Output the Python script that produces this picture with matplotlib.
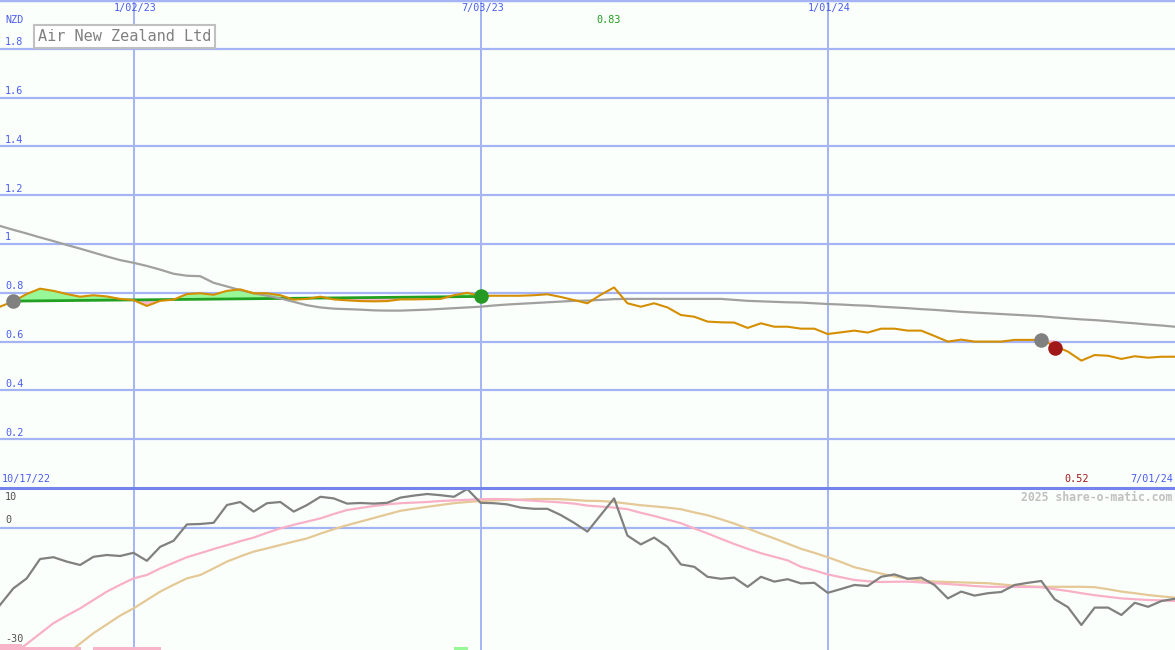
import matplotlib
matplotlib.use("Agg")
import matplotlib.pyplot as plt
import matplotlib.transforms as mtransforms
import numpy as np

# ---------------- data ----------------
weeks = list(range(89))
price = [0.743, 0.765, 0.795, 0.817, 0.808, 0.795, 0.784, 0.790, 0.785, 0.775,
         0.770, 0.746, 0.767, 0.772, 0.795, 0.798, 0.792, 0.808, 0.814, 0.798,
         0.798, 0.790, 0.772, 0.775, 0.784, 0.773, 0.769, 0.766, 0.765, 0.766,
         0.773, 0.773, 0.774, 0.775, 0.790, 0.800, 0.787, 0.788, 0.788, 0.788,
         0.790, 0.794, 0.783, 0.770, 0.757, 0.792, 0.822, 0.757, 0.743, 0.757,
         0.740, 0.709, 0.702, 0.682, 0.679, 0.678, 0.656, 0.675, 0.661, 0.661,
         0.653, 0.653, 0.631, 0.638, 0.645, 0.637, 0.653, 0.653, 0.645, 0.645,
         0.623, 0.600, 0.608, 0.600, 0.600, 0.600, 0.607, 0.607, 0.607, 0.582,
         0.559, 0.522, 0.545, 0.542, 0.529, 0.540, 0.534, 0.538, 0.538]
long_ma = [1.074, 1.058, 1.043, 1.027, 1.012, 0.996, 0.981, 0.965, 0.949, 0.934,
           0.923, 0.910, 0.895, 0.878, 0.870, 0.868, 0.841, 0.826, 0.811, 0.798,
           0.788, 0.777, 0.763, 0.749, 0.740, 0.735, 0.733, 0.731, 0.728, 0.727,
           0.727, 0.729, 0.731, 0.734, 0.737, 0.740, 0.743, 0.748, 0.752, 0.755,
           0.758, 0.761, 0.764, 0.767, 0.768, 0.771, 0.774, 0.775, 0.775, 0.775,
           0.775, 0.775, 0.775, 0.775, 0.775, 0.771, 0.767, 0.765, 0.763, 0.761,
           0.760, 0.757, 0.754, 0.752, 0.749, 0.747, 0.743, 0.740, 0.737, 0.733,
           0.730, 0.726, 0.722, 0.719, 0.716, 0.713, 0.710, 0.707, 0.704, 0.699,
           0.695, 0.691, 0.688, 0.684, 0.679, 0.675, 0.670, 0.666, 0.661]
momentum = [-19.25, -15.1, -12.6, -7.75, -7.3, -8.4, -9.25, -7.2, -6.75, -7.0,
            -6.2, -8.2, -4.7, -3.2, 0.9, 1.0, 1.3, 5.75, 6.5, 4.1,
            6.2, 6.5, 4.1, 5.75, 7.8, 7.4, 6.1, 6.25, 6.1, 6.3,
            7.6, 8.1, 8.5, 8.2, 7.8, 9.75, 6.3, 6.2, 5.9, 5.1,
            4.8, 4.8, 3.25, 1.3, -0.9, 3.25, 7.4, -1.9, -4.1, -2.4,
            -4.7, -9.1, -9.7, -12.2, -12.7, -12.4, -14.7, -12.2, -13.4, -12.8,
            -13.85, -13.7, -16.2, -15.25, -14.25, -14.5, -12.2, -11.6, -12.7, -12.4,
            -14.25, -17.6, -15.9, -16.9, -16.3, -16.0, -14.25, -13.7, -13.25, -17.8,
            -19.8, -24.25, -19.9, -19.9, -21.75, -18.7, -19.7, -18.25, -17.7]
mom_fast = [-34.3, -31.6, -29.0, -26.4, -23.8, -21.9, -20.1, -18.0, -15.9, -14.2,
            -12.6, -11.75, -10.1, -8.7, -7.3, -6.3, -5.25, -4.3, -3.3, -2.4,
            -1.2, -0.1, 0.8, 1.6, 2.4, 3.5, 4.5, 5.0, 5.5, 5.9,
            6.2, 6.35, 6.5, 6.75, 6.9, 7.05, 7.2, 7.25, 7.2, 7.0,
            6.8, 6.6, 6.4, 6.1, 5.6, 5.35, 5.1, 4.7, 3.8, 3.0,
            2.1, 1.2, -0.1, -1.35, -2.7, -4.0, -5.2, -6.3, -7.2, -8.1,
            -9.7, -10.6, -11.6, -12.3, -13.0, -13.3, -13.5, -13.45, -13.4, -13.6,
            -13.8, -14.0, -14.25, -14.5, -14.7, -14.7, -14.7, -14.75, -14.8, -15.3,
            -15.75, -16.3, -16.8, -17.2, -17.6, -17.8, -18.0, -18.1, -18.25]
mom_slow = [-44.5, -41.9, -39.3, -36.7, -34.1, -31.5, -28.9, -26.3, -24.1, -21.9,
            -20.1, -18.0, -15.9, -14.2, -12.6, -11.75, -10.1, -8.4, -7.1, -5.9,
            -5.1, -4.25, -3.4, -2.6, -1.4, -0.3, 0.7, 1.6, 2.5, 3.4,
            4.3, 4.8, 5.3, 5.75, 6.2, 6.5, 6.75, 6.9, 7.0, 7.1,
            7.25, 7.25, 7.2, 7.0, 6.8, 6.75, 6.5, 6.1, 5.7, 5.4,
            5.1, 4.7, 3.9, 3.2, 2.2, 1.1, -0.1, -1.4, -2.6, -3.9,
            -5.2, -6.2, -7.3, -8.5, -9.8, -10.6, -11.4, -12.1, -12.7, -13.1,
            -13.4, -13.5, -13.6, -13.7, -13.8, -14.1, -14.4, -14.6, -14.7, -14.7,
            -14.7, -14.7, -14.8, -15.3, -15.9, -16.3, -16.75, -17.1, -17.4]

# trades: (entry week, entry price, exit week, exit price)
trade1 = (1, 0.766, 36, 0.785)
trade2 = (78, 0.607, 79, 0.574)

# signal bars at the bottom: (start week, end week, height, colour)
signal_bars = [(0.0, 1.65, 1.5, "#f8b4c8"), (1.65, 6.05, 0.75, "#f8b4c8"),
               (6.95, 12.05, 0.75, "#f8b4c8"), (34.0, 35.05, 0.75, "#98f898")]

price_ticks = [0.2, 0.4, 0.6, 0.8, 1.0, 1.2, 1.4, 1.6, 1.8]
price_tick_labels = ["0.2", "0.4", "0.6", "0.8", "1", "1.2", "1.4", "1.6", "1.8"]
date_ticks = [10, 36, 62]
date_labels = ["1/02/23", "7/03/23", "1/01/24"]
start_label, end_label = "10/17/22", "7/01/24"
high_label, high_week = "0.83", 46
low_label, low_week = "0.52", 81
title = "Air New Zealand Ltd"

# ---------------- style ----------------
W, H = 1175, 650
BG = "#fbfffb"
GRID = "#a4b4f4"
SEP = "#7484ec"
BLUE = "#4a5cf0"
MONO = "DejaVu Sans Mono"
FS = 7.3

fig = plt.figure(figsize=(W / 100, H / 100), dpi=100, facecolor=BG)
ax = fig.add_axes([0, 162 / H, 1, 488 / H], facecolor=BG)
axb = fig.add_axes([0, 0, 1, 162 / H], facecolor=BG)

xmax = 1175 / 13.35
for a in (ax, axb):
    a.set_xlim(0, xmax)
    a.set_xticks([])
    a.set_yticks([])
    for s in a.spines.values():
        s.set_visible(False)
    for d in date_ticks:
        a.axvline(d, color=GRID, lw=1.4, zorder=1)

ax.set_ylim(0, 2.0)
axb.set_ylim(-30.5, 10)

for t in price_ticks:
    ax.axhline(t, color=GRID, lw=1.6, zorder=1)
ax.axhline(2.0, color=GRID, lw=2.5, zorder=1)
axb.axhline(10.0, color=SEP, lw=2.2, zorder=10, clip_on=False)
axb.axhline(0.0, color=GRID, lw=1.6, zorder=1)

wk = np.array(weeks, dtype=float)
pr = np.array(price)

# trade 1 fill and line
e_w, e_p, x_w, x_p = trade1
seg = (wk >= e_w) & (wk <= x_w)
line_vals = np.interp(wk, [e_w, x_w], [e_p, x_p])
ax.fill_between(wk[seg], pr[seg], line_vals[seg], where=pr[seg] >= line_vals[seg],
                interpolate=True, color="#98f898", lw=0, zorder=2)
ax.fill_between(wk[seg], pr[seg], line_vals[seg], where=pr[seg] < line_vals[seg],
                interpolate=True, color="#f8b4c8", lw=0, zorder=2)
ax.plot([e_w, x_w], [e_p, x_p], color="#22a022", lw=2.0, zorder=3)

# trade 2 fill (price below entry level)
e2_w, e2_p, x2_w, x2_p = trade2
seg2 = (wk >= e2_w) & (wk <= x2_w)
ax.fill_between(wk[seg2], pr[seg2], e2_p, color="#f8b4c8", lw=0, zorder=2)

ax.plot(wk, long_ma, color="#a0a0a0", lw=1.6, zorder=3)
ax.plot(wk, pr, color="#d48e00", lw=1.5, zorder=4)

ax.scatter([e_w, e2_w], [e_p, e2_p], s=110, color="#808080", zorder=6, lw=0)
ax.scatter([x_w], [x_p], s=110, color="#249a24", zorder=6, lw=0)
ax.scatter([x2_w], [x2_p], s=110, color="#a01818", zorder=6, lw=0)

# bottom panel
axb.plot(wk, mom_slow, color="#e4c896", lw=1.6, zorder=3)
axb.plot(wk, mom_fast, color="#f8b0c8", lw=1.6, zorder=3)
axb.plot(wk, momentum, color="#808080", lw=1.6, zorder=4)
for s0, s1, h, c in signal_bars:
    axb.bar(s0, h, width=s1 - s0, bottom=-30.5, align="edge", color=c, lw=0, zorder=5)

# ---------------- text ----------------
ytr = ax.get_yaxis_transform()
for t, lab in zip(price_ticks, price_tick_labels):
    tr = mtransforms.offset_copy(ytr, fig=fig, x=5, y=1.5, units="dots")
    ax.text(0, t, lab, transform=tr, ha="left", va="bottom", color=BLUE,
            fontsize=FS, family=MONO, zorder=7)
ax.text(0, 2.0, "NZD", transform=mtransforms.offset_copy(ytr, fig=fig, x=5, y=-15, units="dots"),
        ha="left", va="top", color=BLUE, fontsize=FS, family=MONO)

xtr = ax.get_xaxis_transform()
for d, lab in zip(date_ticks, date_labels):
    ax.text(d, 1.0, lab, transform=mtransforms.offset_copy(xtr, fig=fig, x=2, y=-3, units="dots"),
            ha="center", va="top", color=BLUE, fontsize=FS, family=MONO)
ax.text(0, 0, start_label, transform=mtransforms.offset_copy(xtr, fig=fig, x=2, y=4, units="dots"),
        ha="left", va="bottom", color=BLUE, fontsize=FS, family=MONO)
ax.text(xmax, 0, end_label, transform=mtransforms.offset_copy(xtr, fig=fig, x=-2, y=4, units="dots"),
        ha="right", va="bottom", color=BLUE, fontsize=FS, family=MONO)
ax.text(high_week - 0.4, 1.0, high_label,
        transform=mtransforms.offset_copy(xtr, fig=fig, y=-15, units="dots"),
        ha="center", va="top", color="#20a020", fontsize=FS, family=MONO)
ax.text(low_week - 0.35, 0, low_label,
        transform=mtransforms.offset_copy(xtr, fig=fig, y=4, units="dots"),
        ha="center", va="bottom", color="#a01818", fontsize=FS, family=MONO)

ax.text(0, 1.0, title, transform=mtransforms.offset_copy(ax.transAxes, fig=fig, x=38, y=-29, units="dots"),
        ha="left", va="top", color="#808080", fontsize=11, family=MONO, zorder=8,
        bbox=dict(boxstyle="square,pad=0.25", facecolor="white", edgecolor="#c0c0c0", lw=1.5))

ybtr = axb.get_yaxis_transform()
axb.text(0, 10, "10", transform=mtransforms.offset_copy(ybtr, fig=fig, x=5, y=-4, units="dots"),
         ha="left", va="top", color="#505050", fontsize=FS, family=MONO)
axb.text(0, 0, "0", transform=mtransforms.offset_copy(ybtr, fig=fig, x=5, y=3, units="dots"),
         ha="left", va="bottom", color="#505050", fontsize=FS, family=MONO)
axb.text(0, -30, "-30", transform=mtransforms.offset_copy(ybtr, fig=fig, x=5, y=4, units="dots"),
         ha="left", va="bottom", color="#505050", fontsize=FS, family=MONO, zorder=7)
axb.text(1.0, 1.0, "2025 share-o-matic.com",
         transform=mtransforms.offset_copy(axb.transAxes, fig=fig, x=-3, y=-3, units="dots"),
         ha="right", va="top", color="#c0c0c0", fontsize=8.3, family=MONO, fontweight="bold")

fig.savefig("out.png", dpi=100, facecolor=BG)
